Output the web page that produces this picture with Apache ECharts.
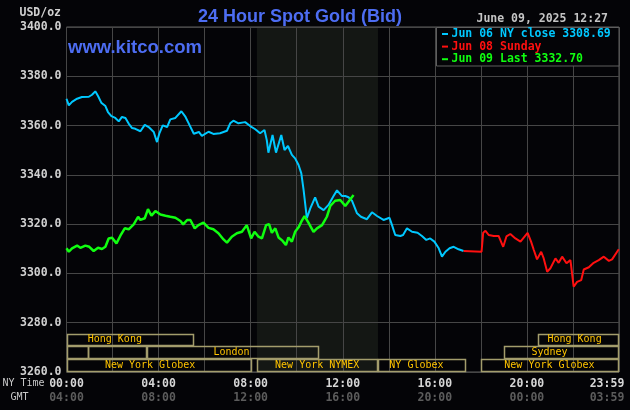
<!DOCTYPE html>
<html>
<head>
<meta charset="utf-8">
<script src="https://cdn.jsdelivr.net/npm/echarts@6/dist/echarts.min.js"></script>
<style>
  html, body { margin: 0; padding: 0; background: #040407; }
  #chart { width: 630px; height: 410px; }
</style>
</head>
<body>
<div id="chart"></div>
<script>
// [hours after NY midnight, bid USD/oz]
const jun06Close = [
  [0, 3370.9], [0.10, 3368.2], [0.24, 3369.6], [0.46, 3370.9], [0.67, 3371.6], [0.97, 3371.7],
  [1.11, 3372.5], [1.25, 3373.9], [1.37, 3372.0], [1.51, 3369.3], [1.69, 3367.9], [1.80, 3365.5],
  [1.95, 3363.8], [2.12, 3363.1], [2.27, 3361.7], [2.41, 3363.5], [2.56, 3363.1], [2.70, 3360.8],
  [2.85, 3359.0], [2.99, 3358.7], [3.21, 3357.7], [3.40, 3360.3], [3.57, 3359.4], [3.79, 3357.4],
  [3.93, 3353.3], [4.03, 3356.7], [4.18, 3360.1], [4.37, 3359.4], [4.51, 3362.5], [4.73, 3363.1],
  [4.99, 3365.8], [5.17, 3363.5], [5.34, 3360.3], [5.53, 3356.7], [5.75, 3357.4], [5.88, 3355.8],
  [6.17, 3357.5], [6.38, 3356.6], [6.67, 3356.9], [6.97, 3357.9], [7.11, 3360.9], [7.25, 3362.0],
  [7.47, 3360.9], [7.76, 3361.4], [7.98, 3359.8], [8.20, 3358.5], [8.41, 3356.9], [8.60, 3358.2],
  [8.70, 3354.1], [8.77, 3349.0], [8.95, 3356.2], [9.10, 3349.0], [9.33, 3356.2], [9.47, 3350.1],
  [9.62, 3351.7], [9.79, 3348.1], [9.93, 3346.7], [10.08, 3344.0], [10.20, 3340.6], [10.30, 3333.8],
  [10.44, 3322.4], [10.59, 3326.4], [10.80, 3330.9], [10.95, 3327.1], [11.17, 3325.7], [11.38, 3327.8],
  [11.60, 3331.4], [11.75, 3333.7], [11.97, 3331.4], [12.11, 3331.4], [12.25, 3330.9], [12.40, 3329.5],
  [12.62, 3324.4], [12.79, 3323.0], [13.05, 3322.0], [13.27, 3324.8], [13.49, 3323.3], [13.77, 3321.7],
  [14.03, 3322.6], [14.14, 3319.6], [14.28, 3315.6], [14.50, 3315.2], [14.62, 3315.6], [14.79, 3318.3],
  [15.01, 3316.9], [15.25, 3316.5], [15.44, 3315.2], [15.63, 3313.6], [15.80, 3314.2], [15.98, 3312.9],
  [16.17, 3310.2], [16.31, 3306.8], [16.46, 3308.8], [16.64, 3310.2], [16.82, 3310.8], [17.03, 3309.8],
  [17.25, 3309.1]
];
const jun08Sunday = [
  [17.25, 3309.1], [18.03, 3308.8], [18.10, 3316.5], [18.20, 3317.3], [18.34, 3315.6], [18.56, 3315.2],
  [18.77, 3315.2], [18.97, 3310.8], [19.11, 3315.0], [19.28, 3316.0], [19.50, 3314.2], [19.72, 3312.9],
  [20.03, 3316.5], [20.18, 3312.9], [20.30, 3309.5], [20.44, 3305.7], [20.62, 3308.8], [20.73, 3306.1],
  [20.88, 3300.7], [21.02, 3302.1], [21.24, 3306.1], [21.38, 3304.3], [21.53, 3306.8], [21.72, 3304.1],
  [21.89, 3305.4], [22.03, 3294.6], [22.18, 3296.6], [22.36, 3297.3], [22.47, 3301.6], [22.69, 3302.5],
  [22.90, 3304.3], [23.12, 3305.4], [23.34, 3306.8], [23.56, 3305.1], [23.70, 3305.7], [23.99, 3309.8]
];
const jun09Last = [
  [0, 3310.2], [0.10, 3308.8], [0.24, 3310.2], [0.46, 3311.3], [0.60, 3310.4], [0.82, 3311.3],
  [0.99, 3310.8], [1.18, 3309.1], [1.37, 3310.4], [1.54, 3309.9], [1.69, 3310.8], [1.83, 3314.2],
  [1.98, 3314.5], [2.17, 3312.2], [2.34, 3315.3], [2.53, 3318.3], [2.70, 3317.9], [2.92, 3319.9],
  [3.11, 3323.0], [3.21, 3321.7], [3.40, 3322.4], [3.54, 3326.1], [3.69, 3323.4], [3.86, 3325.3],
  [4.08, 3323.9], [4.30, 3323.4], [4.51, 3323.0], [4.73, 3322.6], [4.95, 3321.3], [5.07, 3319.9],
  [5.24, 3321.7], [5.38, 3321.7], [5.57, 3318.3], [5.73, 3319.6], [5.95, 3320.6], [6.17, 3318.5],
  [6.38, 3317.9], [6.60, 3316.3], [6.82, 3313.8], [6.97, 3312.5], [7.18, 3314.9], [7.40, 3316.3],
  [7.62, 3316.9], [7.83, 3319.6], [7.90, 3320.0], [8.02, 3314.2], [8.17, 3316.9], [8.34, 3314.9],
  [8.49, 3314.2], [8.67, 3319.6], [8.80, 3320.0], [8.92, 3316.5], [9.07, 3318.3], [9.21, 3314.6],
  [9.38, 3313.3], [9.53, 3311.5], [9.64, 3314.6], [9.79, 3312.9], [9.93, 3316.9], [10.08, 3318.7],
  [10.20, 3321.0], [10.34, 3323.3], [10.51, 3320.6], [10.73, 3316.9], [10.88, 3318.3], [11.10, 3319.6],
  [11.31, 3323.0], [11.46, 3327.4], [11.67, 3329.5], [11.89, 3329.8], [12.11, 3327.4], [12.28, 3329.5],
  [12.47, 3331.8]
];

const nyTimeLabels = ['00:00', '04:00', '08:00', '12:00', '16:00', '20:00', '23:59'];
const gmtLabels = ['04:00', '08:00', '12:00', '16:00', '20:00', '00:00', '03:59'];

const legendLines = [
  ['Jun 06 NY close 3308.69', '#00c8ff'],
  ['Jun 08 Sunday', '#ff1010'],
  ['Jun 09 Last 3332.70', '#10ff10']
];

// trading sessions: [row, open hour, close hour, label, label hour]
const sessions = [
  [0, 0, 5.5, 'Hong Kong', 2.1],
  [0, 20.5, 24, 'Hong Kong', 22.07],
  [1, 0, 0.95, '', 0],
  [1, 0.95, 3.5, '', 0],
  [1, 3.5, 10.95, 'London', 7.17],
  [1, 19, 24, 'Sydney', 20.98],
  [2, 0, 8.03, 'New York Globex', 3.63],
  [2, 8.27, 13.53, 'New York NYMEX', 10.89],
  [2, 13.53, 17.36, 'NY Globex', 15.2],
  [2, 18, 24, 'New York Globex', 20.98]
];
const sessionRowEdges = [3275.6, 3270.7, 3265.3, 3260];
const nymexHours = [[8.27, 13.53]];

const MONO = '"DejaVu Sans Mono", "Liberation Mono", monospace';
const SANS = '"Liberation Sans", Arial, sans-serif';

const chart = echarts.init(document.getElementById('chart'));

chart.setOption({
  backgroundColor: '#040407',
  animation: false,
  title: {
    text: '24 Hour Spot Gold (Bid)',
    left: 295,
    top: 3,
    textAlign: 'center',
    textStyle: { color: '#4d6df2', fontSize: 18, fontWeight: 'bold', fontFamily: SANS }
  },
  grid: {
    left: 66.5, right: 11, top: 27, bottom: 38,
    containLabel: false, outerBoundsMode: 'none',
    show: true, borderColor: '#5e5e5e', borderWidth: 1
  },
  xAxis: {
    type: 'value', min: 0, max: 24, interval: 2, z: 1,
    axisLine: { show: false }, axisTick: { show: false },
    splitLine: { show: true, lineStyle: { color: '#464646', width: 1 } },
    axisLabel: {
      margin: 5,
      showMinLabel: true,
      showMaxLabel: true,
      formatter: function (v) {
        if (v % 4 !== 0) return '';
        const i = v / 4;
        if (v === 24) return '{c|' + nyTimeLabels[i] + '}\n{d|' + gmtLabels[i] + '}';
        return '{a|' + nyTimeLabels[i] + '}\n{b|' + gmtLabels[i] + '}';
      },
      rich: {
        a: { color: '#d6d6d6', fontFamily: MONO, fontSize: 11.5, fontWeight: 'bold', lineHeight: 14 },
        b: { color: '#5c5c5c', fontFamily: MONO, fontSize: 11.5, fontWeight: 'bold', lineHeight: 14 },
        c: { color: '#d6d6d6', fontFamily: MONO, fontSize: 11.5, fontWeight: 'bold', lineHeight: 14, padding: [0, 24, 0, 0] },
        d: { color: '#5c5c5c', fontFamily: MONO, fontSize: 11.5, fontWeight: 'bold', lineHeight: 14, padding: [0, 24, 0, 0] }
      }
    }
  },
  yAxis: {
    type: 'value', min: 3260, max: 3400, interval: 20, z: 1,
    axisLine: { show: false }, axisTick: { show: false },
    splitLine: { show: true, lineStyle: { color: '#464646', width: 1 } },
    axisLabel: {
      margin: 5,
      color: '#d0d0d0', fontFamily: MONO, fontSize: 11.5, fontWeight: 'bold',
      formatter: v => v.toFixed(1)
    }
  },
  graphic: [
    { type: 'text', z: 100, x: 61, y: 13, style: { text: 'USD/oz', fill: '#d0d0d0', font: 'bold 11.5px ' + MONO, align: 'right', verticalAlign: 'middle' } },
    { type: 'text', z: 100, x: 68, y: 48, style: { text: 'www.kitco.com', fill: '#4d6df2', font: 'bold 18.5px ' + SANS, align: 'left', verticalAlign: 'middle' } },
    { type: 'text', z: 100, x: 608, y: 19, style: { text: 'June 09, 2025 12:27', fill: '#c4c4c4', font: 'bold 11.5px ' + MONO, align: 'right', verticalAlign: 'middle' } },
    { type: 'rect', z: 100, shape: { x: 436.5, y: 27.5, width: 182.5, height: 38.5 }, style: { fill: '#040407', stroke: '#5e5e5e', lineWidth: 1 } },
    ...legendLines.flatMap((l, i) => [
      { type: 'rect', z: 101, shape: { x: 442, y: 33 + i * 12.6, width: 6, height: 2 }, style: { fill: l[1] } },
      { type: 'text', z: 101, x: 451.5, y: 34 + i * 12.6, style: { text: l[0], fill: l[1], font: 'bold 11.5px ' + MONO, align: 'left', verticalAlign: 'middle' } }
    ]),
    { type: 'text', z: 100, x: 23.5, y: 383.5, style: { text: 'NY Time', fill: '#c8c8c8', font: '10px ' + MONO, align: 'center', verticalAlign: 'middle' } },
    { type: 'text', z: 100, x: 19.5, y: 397, style: { text: 'GMT', fill: '#c8c8c8', font: '10px ' + MONO, align: 'center', verticalAlign: 'middle' } }
  ],
  series: [
    {
      type: 'custom',
      z: 0,
      silent: true,
      data: nymexHours,
      renderItem: function (params, api) {
        const p0 = api.coord([api.value(0), 3400]);
        const p1 = api.coord([api.value(1), 3260]);
        return { type: 'rect', shape: { x: p0[0], y: p0[1], width: p1[0] - p0[0], height: p1[1] - p0[1] }, style: { fill: '#141714' } };
      }
    },
    {
      type: 'line', name: 'Jun 06', data: jun06Close, showSymbol: false, z: 2,
      lineStyle: { color: '#00c8ff', width: 2 }
    },
    {
      type: 'line', name: 'Jun 08', data: jun08Sunday, showSymbol: false, z: 2,
      lineStyle: { color: '#ff1010', width: 2 }
    },
    {
      type: 'line', name: 'Jun 09', data: jun09Last, showSymbol: false, z: 3,
      lineStyle: { color: '#10ff10', width: 2.5 }
    },
    {
      type: 'custom',
      z: 4,
      silent: true,
      data: sessions.map(s => [s[1], s[2]]),
      renderItem: function (params, api) {
        const s = sessions[params.dataIndex];
        const p0 = api.coord([s[1], sessionRowEdges[s[0]]]);
        const p1 = api.coord([s[2], sessionRowEdges[s[0] + 1]]);
        const children = [{
          type: 'rect',
          shape: { x: Math.round(p0[0]) + 0.5, y: Math.round(p0[1]) + 0.5, width: Math.round(p1[0] - p0[0]) - 1, height: Math.round(p1[1] - p0[1]) - 1 },
          style: { fill: 'none', stroke: '#a39d6c', lineWidth: 1.5 }
        }];
        if (s[3]) {
          const c = api.coord([s[4], (sessionRowEdges[s[0]] + sessionRowEdges[s[0] + 1]) / 2]);
          children.push({
            type: 'text', x: c[0], y: c[1],
            style: { text: s[3], fill: '#ffc400', font: '10px ' + MONO, align: 'center', verticalAlign: 'middle' }
          });
        }
        return { type: 'group', children: children };
      }
    }
  ]
});
</script>
</body>
</html>
